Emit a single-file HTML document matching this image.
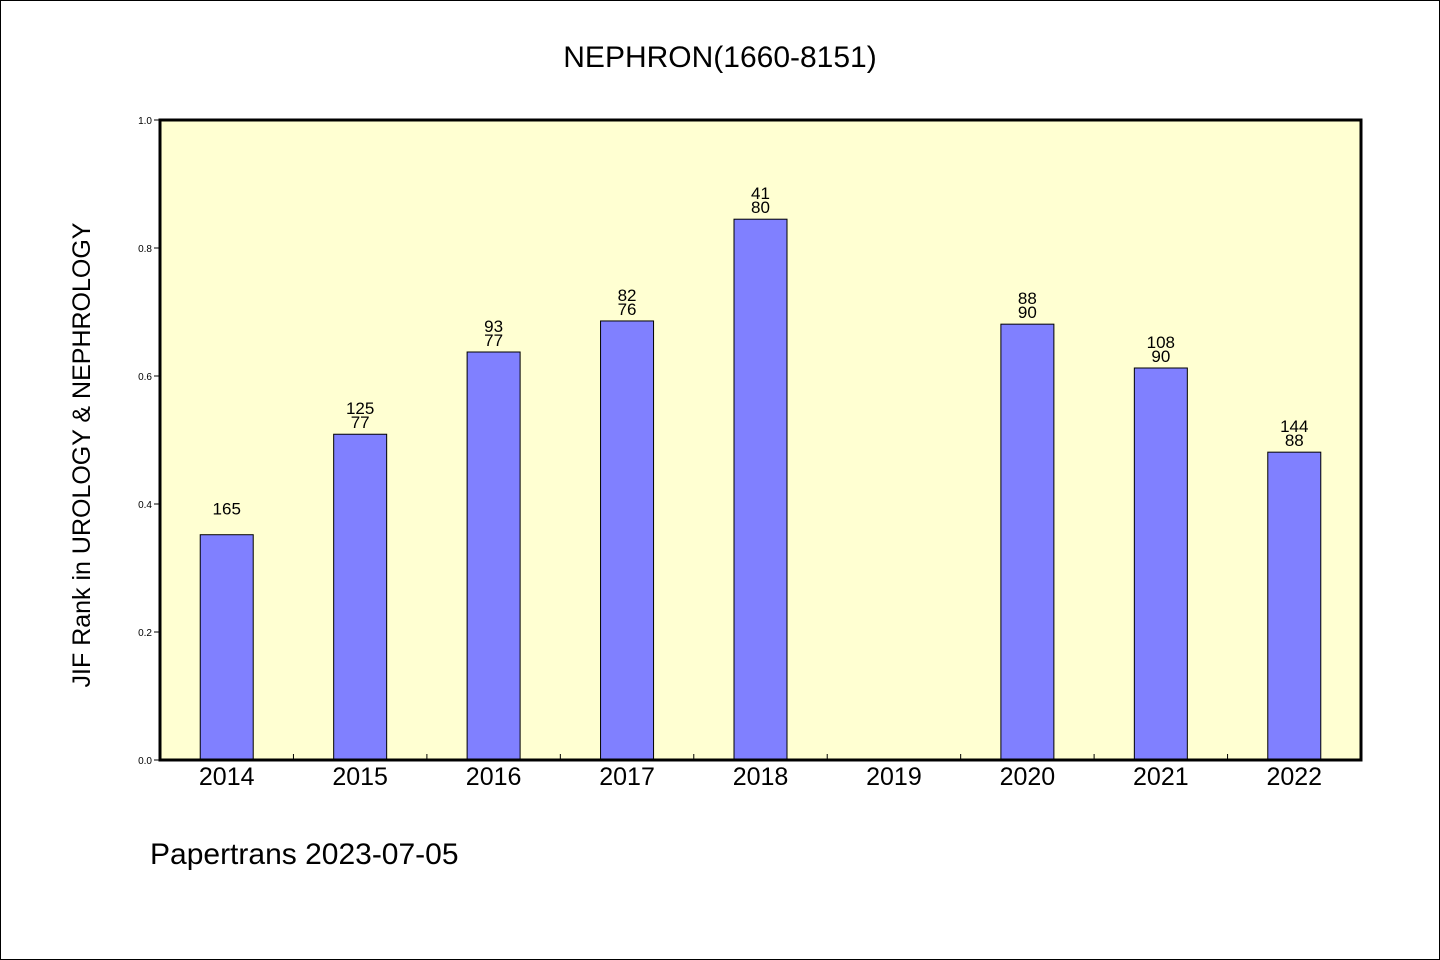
<!DOCTYPE html>
<html><head><meta charset="utf-8"><style>
body{margin:0;background:#fff}
svg{display:block;font-family:"WenQuanYi Zen Hei","Liberation Sans",sans-serif}
</style></head><body>
<svg id="chart" width="1440" height="960" xmlns="http://www.w3.org/2000/svg">
<rect x="0.5" y="0.5" width="1439" height="959" fill="#fff" stroke="#000"/>
<text x="720" y="67" text-anchor="middle" font-size="30">NEPHRON(1660-8151)</text>
<rect x="160" y="120" width="1201" height="640" fill="#ffffd2"/>
<g id="bars"></g>
<g id="axes"></g>
<rect x="160" y="120" width="1201" height="640" fill="none" stroke="#000" stroke-width="3"/>
<text transform="translate(90,455) rotate(-90)" text-anchor="middle" font-size="25">JIF Rank in UROLOGY &amp; NEPHROLOGY</text>
<text x="150" y="864" font-size="30">Papertrans 2023-07-05</text>
</svg>
<script>
const categories=["2014","2015","2016","2017","2018","2019","2020","2021","2022"];
const values=[0.352,0.509,0.6375,0.686,0.845,null,0.681,0.6125,0.481];
const labelTop=["","125","93","82","41","","88","108","144"];
const labelBottom=["165","77","77","76","80","","90","90","88"];
const yTicks=[0,0.2,0.4,0.6,0.8,1.0];
const NS="http://www.w3.org/2000/svg";
const x0=160,x1=1361,y0=760,y1=120;
const step=(x1-x0)/categories.length;
const xc=i=>x0+step*(i+0.5);
const y=v=>y0-(y0-y1)*v;
function mk(tag,attrs,parent){const e=document.createElementNS(NS,tag);for(const k in attrs)e.setAttribute(k,attrs[k]);parent.appendChild(e);return e;}
const bars=document.getElementById('bars'),axes=document.getElementById('axes');
categories.forEach((c,i)=>{
  const t=mk('text',{x:xc(i),y:785,'text-anchor':'middle','font-size':25},axes);
  t.textContent=c;
  
  
  if(i>0){const l=mk('line',{x1:x0+step*i,x2:x0+step*i,y1:y0,y2:y0-6,stroke:'#000'},axes);
    
    }
  const v=values[i];
  if(v==null)return;
  const r=mk('rect',{x:xc(i)-26.5,y:y(v),width:53,height:y0-y(v),fill:'#8080ff',stroke:'#000','stroke-width':1},bars);
  
  
  const top=y(v);
  if(labelTop[i]){const a=mk('text',{x:xc(i),y:top-20,'text-anchor':'middle','font-size':17},bars);a.textContent=labelTop[i];
    
    }
  const b=mk('text',{x:xc(i),y:labelTop[i]?top-6:top-20,'text-anchor':'middle','font-size':17},bars);b.textContent=labelBottom[i];
  
  
});
yTicks.forEach(v=>{
  const l=mk('line',{x1:x0-6,x2:x0,y1:y(v),y2:y(v),stroke:'#000'},axes);
  
  
  const t=mk('text',{x:152,y:y(v)+4,'text-anchor':'end','font-size':10},axes);
  t.textContent=v.toFixed(1);
  
  
});
</script>
</body></html>
